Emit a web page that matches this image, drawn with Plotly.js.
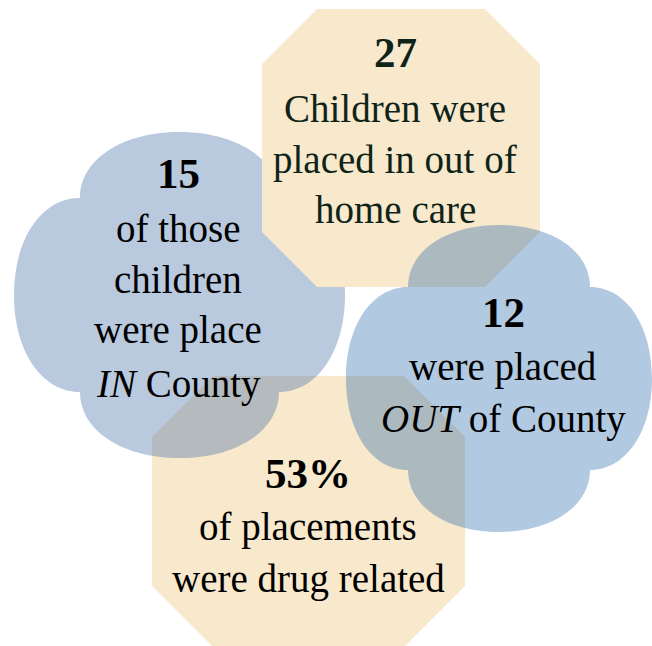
<!DOCTYPE html>
<html>
<head>
<meta charset="utf-8">
<script src="https://cdn.plot.ly/plotly-3.0.1.min.js"></script>
<style>
html,body{margin:0;padding:0;background:#fff;}
#chart{width:652px;height:646px;}
</style>
</head>
<body>
<div id="chart"></div>
<script>
// ---- data ----
var figures = ['27', '15', '12', '53%'];
var captions = [
  ['Children were', 'placed in out of', 'home care'],
  ['of those', 'children', 'were place', '<i>IN</i> County'],
  ['were placed', '<i>OUT</i> of County'],
  ['of placements', 'were drug related']
];

// ---- layout (positions in pixel space) ----
var textCenterX = [395, 178, 503, 308];
var figureBaseline = [67, 188, 327, 488];
var captionBaselines = [
  [122, 173, 223],
  [242, 293, 343, 397],
  [380, 432],
  [540, 592]
];
var textColors = ['#0f2419', '#000000', '#000000', '#000000'];

var figSize = 43, capSize = 39;
var FONT = 'Liberation Serif, Times New Roman, serif';

function octagon(x0, y0, x1, y1, c) {
  return 'M' + (x0 + c) + ',' + y0 + ' L' + (x1 - c) + ',' + y0 + ' L' + x1 + ',' + (y0 + c) +
    ' L' + x1 + ',' + (y1 - c) + ' L' + (x1 - c) + ',' + y1 + ' L' + (x0 + c) + ',' + y1 +
    ' L' + x0 + ',' + (y1 - c) + ' L' + x0 + ',' + (y0 + c) + ' Z';
}
function cloud(x0, y0, x1, y1, n, k) {
  var cx = (x0 + x1) / 2, cy = (y0 + y1) / 2;
  var hw = cx - (x0 + n), hh = cy - (y0 + n);
  var p = function (x, y) { return x.toFixed(1) + ',' + y.toFixed(1); };
  var s = 'M' + p(x0 + n, y0 + n);
  s += ' C' + p(x0 + n, y0 + n - k * n) + ' ' + p(cx - k * hw, y0) + ' ' + p(cx, y0);
  s += ' C' + p(cx + k * hw, y0) + ' ' + p(x1 - n, y0 + n - k * n) + ' ' + p(x1 - n, y0 + n);
  s += ' C' + p(x1 - n + k * n, y0 + n) + ' ' + p(x1, cy - k * hh) + ' ' + p(x1, cy);
  s += ' C' + p(x1, cy + k * hh) + ' ' + p(x1 - n + k * n, y1 - n) + ' ' + p(x1 - n, y1 - n);
  s += ' C' + p(x1 - n, y1 - n + k * n) + ' ' + p(cx + k * hw, y1) + ' ' + p(cx, y1);
  s += ' C' + p(cx - k * hw, y1) + ' ' + p(x0 + n, y1 - n + k * n) + ' ' + p(x0 + n, y1 - n);
  s += ' C' + p(x0 + n - k * n, y1 - n) + ' ' + p(x0, cy + k * hh) + ' ' + p(x0, cy);
  s += ' C' + p(x0, cy - k * hh) + ' ' + p(x0 + n - k * n, y0 + n) + ' ' + p(x0 + n, y0 + n);
  return s + ' Z';
}

var beige = '#f8e8cc';
var shapes = [
  {type: 'path', path: octagon(152, 376, 465, 647, 61), fillcolor: beige, line: {width: 0}, layer: 'above'},
  {type: 'path', path: cloud(14, 132, 345, 458, 66, 0.58), fillcolor: 'rgb(55,100,160)', opacity: 0.35, line: {width: 0}, layer: 'above'},
  {type: 'path', path: octagon(262, 9, 540, 287, 55), fillcolor: beige, line: {width: 0}, layer: 'above'},
  {type: 'path', path: cloud(346, 225, 652, 532, 62, 0.58), fillcolor: 'rgb(32,101,169)', opacity: 0.35, line: {width: 0}, layer: 'above'}
];

var annotations = [];
figures.forEach(function (f, i) {
  annotations.push({
    x: textCenterX[i], y: figureBaseline[i] - 0.34 * figSize, xref: 'x', yref: 'y',
    text: '<b>' + f + '</b>', showarrow: false, xanchor: 'center', yanchor: 'middle',
    font: {family: FONT, size: figSize, color: textColors[i]}
  });
  captions[i].forEach(function (line, j) {
    annotations.push({
      x: textCenterX[i], y: captionBaselines[i][j] - 0.34 * capSize, xref: 'x', yref: 'y',
      text: line, showarrow: false, xanchor: 'center', yanchor: 'middle',
      font: {family: FONT, size: capSize, color: textColors[i]}
    });
  });
});

var layout = {
  width: 652, height: 646,
  margin: {l: 0, r: 0, t: 0, b: 0},
  paper_bgcolor: '#ffffff', plot_bgcolor: '#ffffff',
  xaxis: {range: [0, 652], visible: false, fixedrange: true},
  yaxis: {range: [646, 0], visible: false, fixedrange: true},
  showlegend: false,
  shapes: shapes,
  annotations: annotations
};

Plotly.newPlot('chart', [], layout, {staticPlot: true, displayModeBar: false});
</script>
</body>
</html>
